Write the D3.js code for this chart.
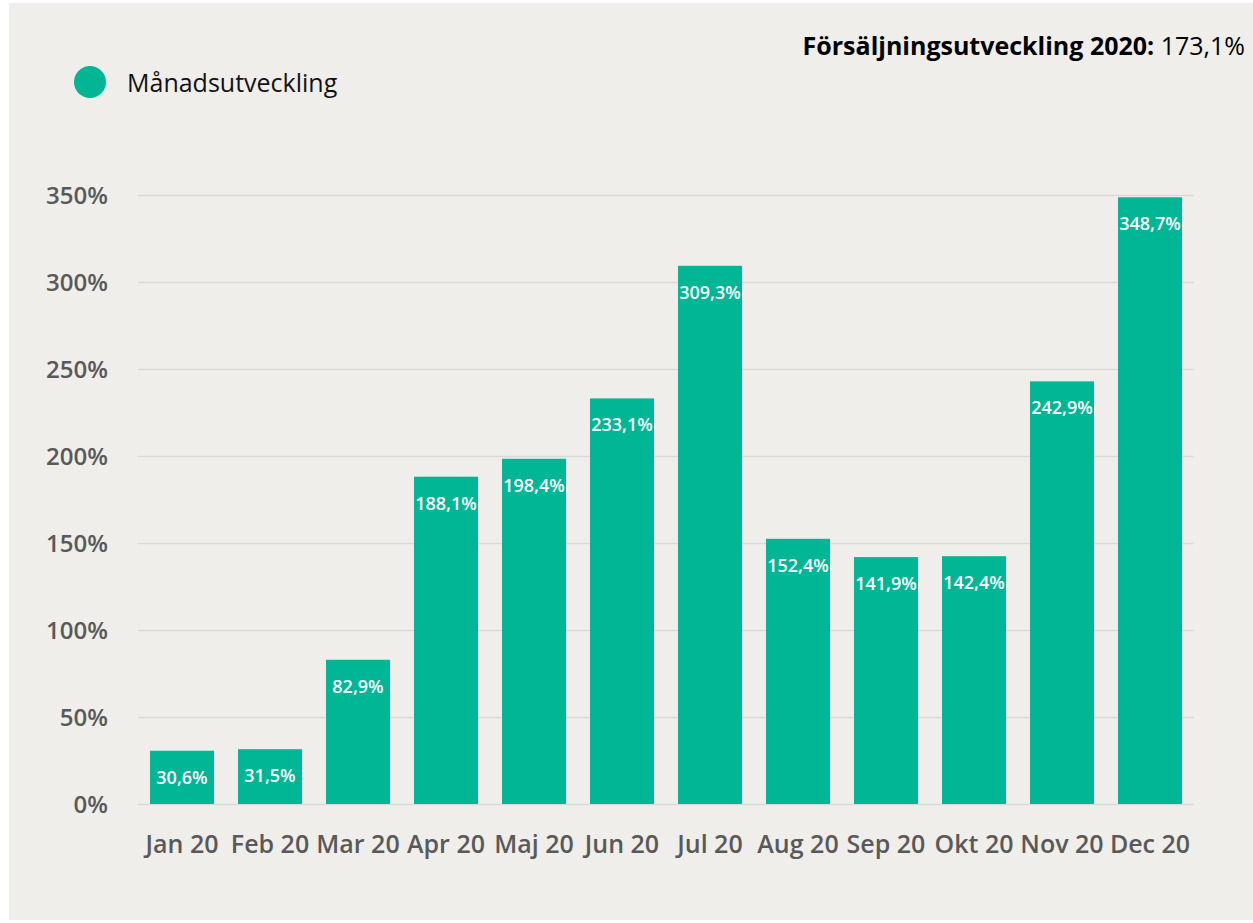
<!DOCTYPE html>
<html lang="sv">
  <head>
    <meta charset="utf-8">
    <title>Månadsutveckling 2020</title>
    <script src="https://cdn.jsdelivr.net/npm/d3@7"></script>
    <style>
      body { margin: 0; background: #fff; }
      svg text { font-family: "Open Sans", "Noto Sans", sans-serif; }
    </style>
  </head>
  <body>
    <div id="chart"></div>
    <script>
      // data
      var months = ["Jan 20", "Feb 20", "Mar 20", "Apr 20", "Maj 20", "Jun 20",
                    "Jul 20", "Aug 20", "Sep 20", "Okt 20", "Nov 20", "Dec 20"];
      var growth = [30.6, 31.5, 82.9, 188.1, 198.4, 233.1, 309.3, 152.4, 141.9, 142.4, 242.9, 348.7];
      var yTicks = [0, 50, 100, 150, 200, 250, 300, 350];
      var seriesName = "Månadsutveckling";
      var totalLabel = "Försäljningsutveckling 2020:";
      var totalValue = 173.1;

      var W = 1253, H = 923;
      var green = "#00b694";

      var fmt = function(v) { return d3.format(".1f")(v).replace(".", ",") + "%"; };

      var svg = d3.select("#chart").append("svg")
          .attr("width", W)
          .attr("height", H);

      // panel background
      svg.append("rect")
          .attr("x", 9).attr("y", 3)
          .attr("width", W - 9).attr("height", 917)
          .attr("fill", "#efeeea");

      var x = d3.scaleBand()
          .domain(months)
          .range([138, 1194])
          .paddingInner(0.273)
          .paddingOuter(0.1365);

      var y = d3.scaleLinear()
          .domain([0, 350])
          .range([804, 195]);

      // gridlines
      svg.append("g")
          .attr("transform", "translate(138,0)")
          .call(d3.axisLeft(y).tickValues(yTicks).tickSize(-(1194 - 138)).tickFormat(""))
          .call(function(g) {
            g.select(".domain").remove();
            g.selectAll("line").attr("stroke", "#d9d9d9").attr("stroke-width", 1.6);
          });

      // y labels
      svg.append("g")
          .attr("transform", "translate(108,0)")
          .call(d3.axisLeft(y).tickValues(yTicks).tickSize(0).tickPadding(0)
                .tickFormat(function(d) { return d + "%"; }))
          .call(function(g) {
            g.select(".domain").remove();
            g.selectAll("text")
              .attr("fill", "#595959")
              .attr("font-size", 24)
              .attr("font-weight", 600)
              .attr("dy", "0.36em");
          });

      // bars
      svg.append("g").selectAll("rect")
          .data(growth)
          .join("rect")
          .attr("x", function(d, i) { return x(months[i]); })
          .attr("y", function(d) { return y(d); })
          .attr("width", x.bandwidth())
          .attr("height", function(d) { return y(0) - y(d); })
          .attr("fill", green);

      // value labels
      svg.append("g").selectAll("text")
          .data(growth)
          .join("text")
          .attr("x", function(d, i) { return x(months[i]) + x.bandwidth() / 2; })
          .attr("y", function(d) { return y(d) + 33; })
          .attr("text-anchor", "middle")
          .attr("fill", "#fff")
          .attr("font-size", 18)
          .attr("font-weight", 600)
          .text(fmt);

      // x labels
      svg.append("g")
          .attr("transform", "translate(0,804)")
          .call(d3.axisBottom(x).tickSize(0).tickPadding(0))
          .call(function(g) {
            g.select(".domain").remove();
            g.selectAll("text")
              .attr("fill", "#595959")
              .attr("font-size", 25)
              .attr("font-weight", 600)
              .attr("dy", 0)
              .attr("y", 49);
          });

      // legend
      svg.append("circle")
          .attr("cx", 90).attr("cy", 82).attr("r", 16)
          .attr("fill", green);
      svg.append("text")
          .attr("x", 127).attr("y", 92)
          .attr("font-size", 25)
          .attr("fill", "#111")
          .text(seriesName);

      // total growth, top right
      var tot = svg.append("text")
          .attr("x", 1245).attr("y", 55)
          .attr("text-anchor", "end")
          .attr("font-size", 25)
          .attr("fill", "#000");
      tot.append("tspan").attr("font-weight", 700).text(totalLabel);
      tot.append("tspan").text(" " + fmt(totalValue));
    </script>
  </body>
</html>
